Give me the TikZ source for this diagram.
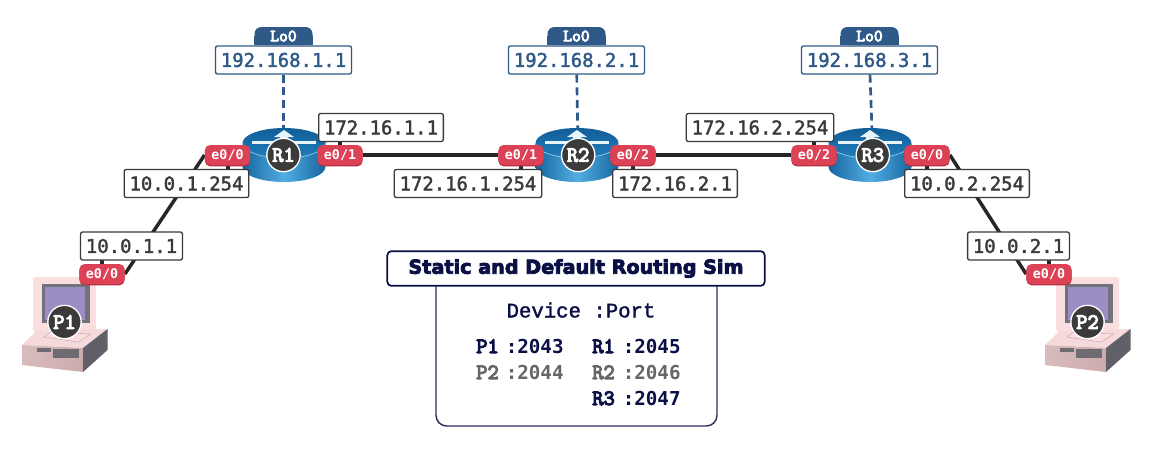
\documentclass[tikz,border=0pt]{standalone}
\usepackage{fontspec}
\usepackage{tikz}
\usetikzlibrary{positioning,backgrounds}

\newfontfamily\ipfont[FakeBold=2]{DejaVu Sans Mono}
\newfontfamily\portfont{DejaVu Sans Mono}
\newfontfamily\headfont[FakeBold=1.5]{Liberation Mono}
\newfontfamily\titlefont[FakeBold=4]{DejaVu Sans}
\newfontfamily\tagfont[FakeBold=5]{Latin Modern Mono}

\definecolor{inkgray}{HTML}{3A3A3A}
\definecolor{loopblue}{HTML}{2F5A88}
\definecolor{portred}{HTML}{DC4155}
\definecolor{portdark}{HTML}{B23040}
\definecolor{navy}{HTML}{0A1045}
\definecolor{navyline}{HTML}{2A2F60}
\definecolor{dimgray}{HTML}{666666}
\definecolor{routeredge}{HTML}{16659F}
\definecolor{routermid}{HTML}{52AEE2}
\definecolor{routertop}{HTML}{125E98}
\definecolor{routerlow}{HTML}{1F7DBB}
\definecolor{pcpink}{HTML}{FBDFE0}
\definecolor{pcbezel}{HTML}{72727C}
\definecolor{pcscreen}{HTML}{9C8DC4}
\definecolor{pcfront}{HTML}{CDABAD}
\definecolor{pcside}{HTML}{5F6068}

\tikzset{
  ipbox/.style={draw=inkgray, line width=1pt, fill=white, rounded corners=1.5pt,
    text=inkgray, font=\ipfont\fontsize{14.2}{14.2}\selectfont,
    inner xsep=4pt, inner ysep=0pt, minimum height=21pt},
  lobox/.style={ipbox, draw=loopblue, text=loopblue},
  lotab/.style={fill=loopblue, rounded corners=5pt, text=white,
    font=\tagfont\fontsize{12.8}{12.8}\selectfont,
    inner sep=0pt, minimum width=43.5pt, minimum height=13.5pt},
  port/.style={fill=portred, rounded corners=4pt, text=white,
    font=\portfont\bfseries\fontsize{10}{10}\selectfont,
    inner sep=0pt, minimum width=34pt, minimum height=15pt,
    preaction={fill=portdark, transform canvas={yshift=-1pt}}},
  badge/.style={circle, fill=inkgray, draw=white, line width=1pt, text=white,
    font=\tagfont\fontsize{16.4}{16.4}\selectfont,
    inner sep=0pt, minimum size=25pt},
  link/.style={draw=black!85, line width=2.6pt},
  stub/.style={draw=black!85, line width=3pt},
  loopline/.style={draw=loopblue, line width=2pt, dash pattern=on 6pt off 3.5pt},
  simtext/.style={text=navy, inner sep=0pt, anchor=west, text height=10.5pt, text depth=0pt,
    font=\portfont\bfseries\fontsize{14.4}{14.4}\selectfont},
  simname/.style={simtext, font=\tagfont\fontsize{16.4}{16.4}\selectfont},
  routericon/.pic={
    \path[left color=routeredge, right color=routeredge, middle color=routermid]
      (-41.5,-12) -- (-41.5,12) arc[start angle=180, end angle=360, x radius=31.1pt, y radius=11.25pt]
      -- (41.5,-12) -- cycle;
    \path[top color=routertop, bottom color=routerlow]
      (0,-12) ellipse[x radius=31.1pt, y radius=11.25pt];
    \draw[routermid!60!white, line width=.5pt]
      (-41.5,-12) arc[start angle=180, end angle=360, x radius=31.1pt, y radius=11.25pt];
    \fill[white!85!routermid] (-32,-14) -- (32,-14) -- (32,-11) -- (-32,-11) -- cycle;
    \fill[white!85!routermid] (0,-25) -- (10,-18) -- (4,-18) -- (4,-14) -- (-4,-14) -- (-4,-18) -- (-10,-18) -- cycle;
  },
  pcicon/.pic={
    % monitor
    \fill[pcpink, rounded corners=2pt] (-31.5,-45) rectangle (31.5,10);
    \fill[pcbezel] (-23,-38) rectangle (25.5,1);
    \fill[pcscreen] (-19.5,-35) rectangle (20.5,-2);
    % base
    \fill[pcpink!90!pcfront] (-42.5,23) -- (-28,9) -- (43,7) -- (18.5,26) -- cycle;
    \path[left color=pcfront!80!white, right color=pcfront] (-42.5,23) -- (18.5,26) -- (18.5,50) -- (-42.5,43) -- cycle;
    \fill[pcside] (43,7) -- (43,28) -- (18.5,50) -- (18.5,26) -- cycle;
    \fill[pcside!85!pcfront] (-28,26) rectangle (-14,30);
    \fill[pcside!85!pcfront] (-12,27) rectangle (14,36);
    \draw[pcfront, fill=pcpink, line width=.4pt] (-20.5,15) -- (-14,10) -- (26,12) -- (14,20) -- cycle;
  },
}

\begin{document}
\begin{tikzpicture}[x=.75pt,y=-.75pt]
\useasboundingbox (0,0) rectangle (1155,462);

% Icons
  \pic at (284,155) {routericon};
  \pic at (577,155) {routericon};
  \pic at (870,155) {routericon};
  \pic at (64.5,322) {pcicon};
  \pic at (1087.5,322) {pcicon};

% Nodes
  \node[badge] (R1) at (283.5,155) {R1};
  \node[badge, right=195pt of R1] (R2) {R2};
  \node[badge, right=195pt of R2] (R3) {R3};
  \node[badge] (P1) at (64.5,322) {P1};
  \node[badge] (P2) at (1087.5,322) {P2};

  \node[lobox] (Lo1ip) at (283.5,60) {192.168.1.1};
  \node[lobox] (Lo2ip) at (576.5,60) {192.168.2.1};
  \node[lobox] (Lo3ip) at (869.5,60) {192.168.3.1};
  \node[lotab, above=0pt of Lo1ip] (Lo1tab) {Lo0};
  \node[lotab, above=0pt of Lo2ip] (Lo2tab) {Lo0};
  \node[lotab, above=0pt of Lo3ip] (Lo3tab) {Lo0};

  \node[port] (P1e0) at (102,274) {e0/0};
  \node[port] (R1e0) at (227.5,155) {e0/0};
  \node[port] (R1e1) at (340,155) {e0/1};
  \node[port] (R2e1) at (521,155) {e0/1};
  \node[port] (R2e2) at (633,155) {e0/2};
  \node[port] (R3e2) at (814,155) {e0/2};
  \node[port] (R3e0) at (927,155) {e0/0};
  \node[port] (P2e0) at (1049,274) {e0/0};

  \node[ipbox] (P1ip) at (131.5,246) {10.0.1.1};
  \node[ipbox] (R1ip0) at (186.5,183.5) {10.0.1.254};
  \node[ipbox] (R1ip1) at (381,127.5) {172.16.1.1};
  \node[ipbox] (R2ip1) at (468,183.5) {172.16.1.254};
  \node[ipbox] (R2ip2) at (675,183.5) {172.16.2.1};
  \node[ipbox] (R3ip2) at (760,127.5) {172.16.2.254};
  \node[ipbox] (R3ip0) at (967,183.5) {10.0.2.254};
  \node[ipbox] (P2ip) at (1018.5,246) {10.0.2.1};

% Edges
  \begin{scope}[on background layer]
    \draw[link] (P1e0.east) -- (R1e0.west);
    \draw[link] (R1e1) -- (R2e1);
    \draw[link] (R2e2) -- (R3e2);
    \draw[link] (R3e0.east) -- (P2e0.west);
    \draw[stub] (P1e0) -- (P1e0 |- P1ip);
    \draw[stub] (R1e0) -- (R1e0 |- R1ip0);
    \draw[stub] (R1e1) -- (R1e1 |- R1ip1);
    \draw[stub] (R2e1) -- (R2e1 |- R2ip1);
    \draw[stub] (R2e2) -- (R2e2 |- R2ip2);
    \draw[stub] (R3e2) -- (R3e2 |- R3ip2);
    \draw[stub] (R3e0) -- (R3e0 |- R3ip0);
    \draw[stub] (P2e0) -- (P2e0 |- P2ip);
    \draw[loopline] (Lo1ip) -- (R1);
    \draw[loopline] (Lo2ip) -- (R2);
    \draw[loopline] (Lo3ip) -- (R3);
    \fill[loopblue] (Lo1tab.west) rectangle (Lo1tab.south east);
    \fill[loopblue] (Lo2tab.west) rectangle (Lo2tab.south east);
    \fill[loopblue] (Lo3tab.west) rectangle (Lo3tab.south east);
  \end{scope}

% Sim box
  \draw[navyline, line width=1.1pt, rounded corners=8pt, fill=white] (436,270) -- (436,426) -- (717,426) -- (717,270);
  \node[draw=navy, line width=1.3pt, fill=white, rounded corners=3pt, text=navy,
    minimum width=283pt, minimum height=26pt, inner sep=0pt,
    font=\titlefont\bfseries\fontsize{14.4}{14.4}\selectfont] (Title) at (576,268.5) {Static and Default Routing Sim};
  \node[text=navy, inner sep=0pt, font=\headfont\fontsize{15.5}{15.5}\selectfont] (Head) at (581,310) {Device :Port};

  \node[simname] (P1name) at (476,346) {P1};
  \node[simtext] (P1port) at (505.5,346) {:2043};
  \node[simname, text=dimgray] (P2name) at (476,372) {P2};
  \node[simtext, text=dimgray] (P2port) at (505.5,372) {:2044};
  \node[simname] (R1name) at (592,346) {R1};
  \node[simtext] (R1port) at (622.5,346) {:2045};
  \node[simname, text=dimgray] (R2name) at (592,372) {R2};
  \node[simtext, text=dimgray] (R2port) at (622.5,372) {:2046};
  \node[simname] (R3name) at (592,398) {R3};
  \node[simtext] (R3port) at (622.5,398) {:2047};

\end{tikzpicture}
\end{document}
